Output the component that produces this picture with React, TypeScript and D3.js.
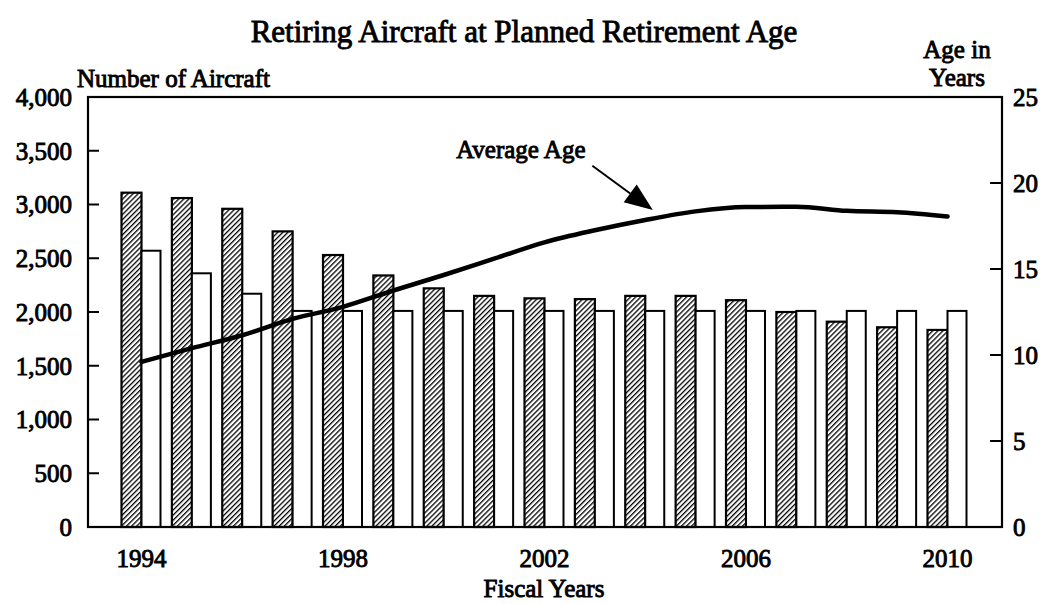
import React from "react";
import * as d3 from "d3";

const years = [1994,1995,1996,1997,1998,1999,2000,2001,2002,2003,2004,2005,2006,2007,2008,2009,2010];
const retiring = [3110,3060,2960,2750,2530,2340,2220,2150,2127,2120,2150,2150,2110,2000,1910,1858,1833];
const planned = [2570,2360,2170,2010,2010,2010,2010,2010,2010,2010,2010,2010,2010,2010,2010,2010,2010];
const avgAge = [9.6,10.4,11.15,12.1,12.8,13.75,14.65,15.6,16.55,17.25,17.85,18.35,18.6,18.62,18.38,18.3,18.05];
const leftTicks = [0,500,1000,1500,2000,2500,3000,3500,4000];
const rightTicks = [0,5,10,15,20,25];
const yearLabels = [1994,1998,2002,2006,2010];
// annotation in data units (year, age)
const annoLabel = { year: 2001.53, age: 21.45, text: "Average Age" };
const annoTail = { year: 2002.95, age: 21.0 };
const annoTip = { year: 2004.15, age: 18.43 };

const FONT = "'Liberation Serif', 'Times New Roman', serif";

export default function App() {
  const W = 1046, H = 604;
  const left = 88, right = 1002, top = 97, bottom = 527;
  const x = d3.scaleLinear().domain([1994, 2010]).range([141.5, 947.5]);
  const yL = d3.scaleLinear().domain([0, 4000]).range([bottom, top]);
  const yR = d3.scaleLinear().domain([0, 25]).range([bottom, top]);
  const barW = 20;

  const line = d3.line<number>()
    .x((_, i) => x(years[i]))
    .y((d) => yR(d))
    .curve(d3.curveMonotoneX);

  const tx = x(annoTip.year), ty = yR(annoTip.age);
  const sx = x(annoTail.year), sy = yR(annoTail.age);
  const ang = Math.atan2(ty - sy, tx - sx);
  const headLen = 28, headHalf = 11;
  const bx = tx - headLen * Math.cos(ang), by = ty - headLen * Math.sin(ang);
  const px = -Math.sin(ang), py = Math.cos(ang);
  const head = `M${tx},${ty} L${bx + px * headHalf},${by + py * headHalf} L${bx - px * headHalf},${by - py * headHalf} Z`;

  const textStyle = { fontFamily: FONT, fill: "#000", stroke: "#000", strokeWidth: 0.9 } as const;

  return (
    <svg width={W} height={H} style={{ position: "absolute", left: 0, top: 0, background: "#fff" }}>
      <defs>
        <pattern id="hatch" patternUnits="userSpaceOnUse" width="3.6" height="3.6" patternTransform="rotate(45)">
          <rect width="3.6" height="3.6" fill="#fff" />
          <line x1="0" y1="0" x2="0" y2="3.6" stroke="#000" strokeWidth="2.6" />
        </pattern>
      </defs>
      <rect width={W} height={H} fill="#fff" />
      <text x={524} y={42} textAnchor="middle" fontSize={31} {...textStyle}>
        Retiring Aircraft at Planned Retirement Age
      </text>
      <text x={77} y={87} fontSize={25} {...textStyle}>Number of Aircraft</text>
      <text x={957} y={58} textAnchor="middle" fontSize={25} {...textStyle}>Age in</text>
      <text x={957} y={86} textAnchor="middle" fontSize={25} {...textStyle}>Years</text>

      {years.map((yr, i) => (
        <g key={yr}>
          <rect x={x(yr) - barW} y={yL(retiring[i])} width={barW} height={bottom - yL(retiring[i])}
            fill="url(#hatch)" stroke="#000" strokeWidth={2.2} />
          <rect x={x(yr)} y={yL(planned[i])} width={barW - 1} height={bottom - yL(planned[i])}
            fill="#fff" stroke="#000" strokeWidth={2} />
        </g>
      ))}

      <path d={line(avgAge) || ""} fill="none" stroke="#000" strokeWidth={4.5} strokeLinecap="round" />

      <rect x={left} y={top} width={right - left} height={bottom - top} fill="none" stroke="#000" strokeWidth={2.2} />

      {leftTicks.map((t) => (
        <g key={"l" + t}>
          {t > 0 && t < 4000 && <line x1={left} x2={left + 11} y1={yL(t)} y2={yL(t)} stroke="#000" strokeWidth={2} />}
          <text x={72} y={yL(t)} dy="0.35em" textAnchor="end" fontSize={25} {...textStyle}>
            {d3.format(",")(t)}
          </text>
        </g>
      ))}
      {rightTicks.map((t) => (
        <g key={"r" + t}>
          {t > 0 && t < 25 && <line x1={right - 12} x2={right} y1={yR(t)} y2={yR(t)} stroke="#000" strokeWidth={2} />}
          <text x={1013} y={yR(t)} dy="0.35em" textAnchor="start" fontSize={25} {...textStyle}>
            {t}
          </text>
        </g>
      ))}
      {yearLabels.map((yr) => (
        <text key={yr} x={x(yr)} y={567} textAnchor="middle" fontSize={25} {...textStyle}>{yr}</text>
      ))}
      <text x={544} y={597} textAnchor="middle" fontSize={25} {...textStyle}>Fiscal Years</text>

      <text x={x(annoLabel.year)} y={yR(annoLabel.age)} textAnchor="middle" fontSize={25} {...textStyle}>
        {annoLabel.text}
      </text>
      <line x1={sx} y1={sy} x2={bx} y2={by} stroke="#000" strokeWidth={2} />
      <path d={head} fill="#000" />
    </svg>
  );
}
